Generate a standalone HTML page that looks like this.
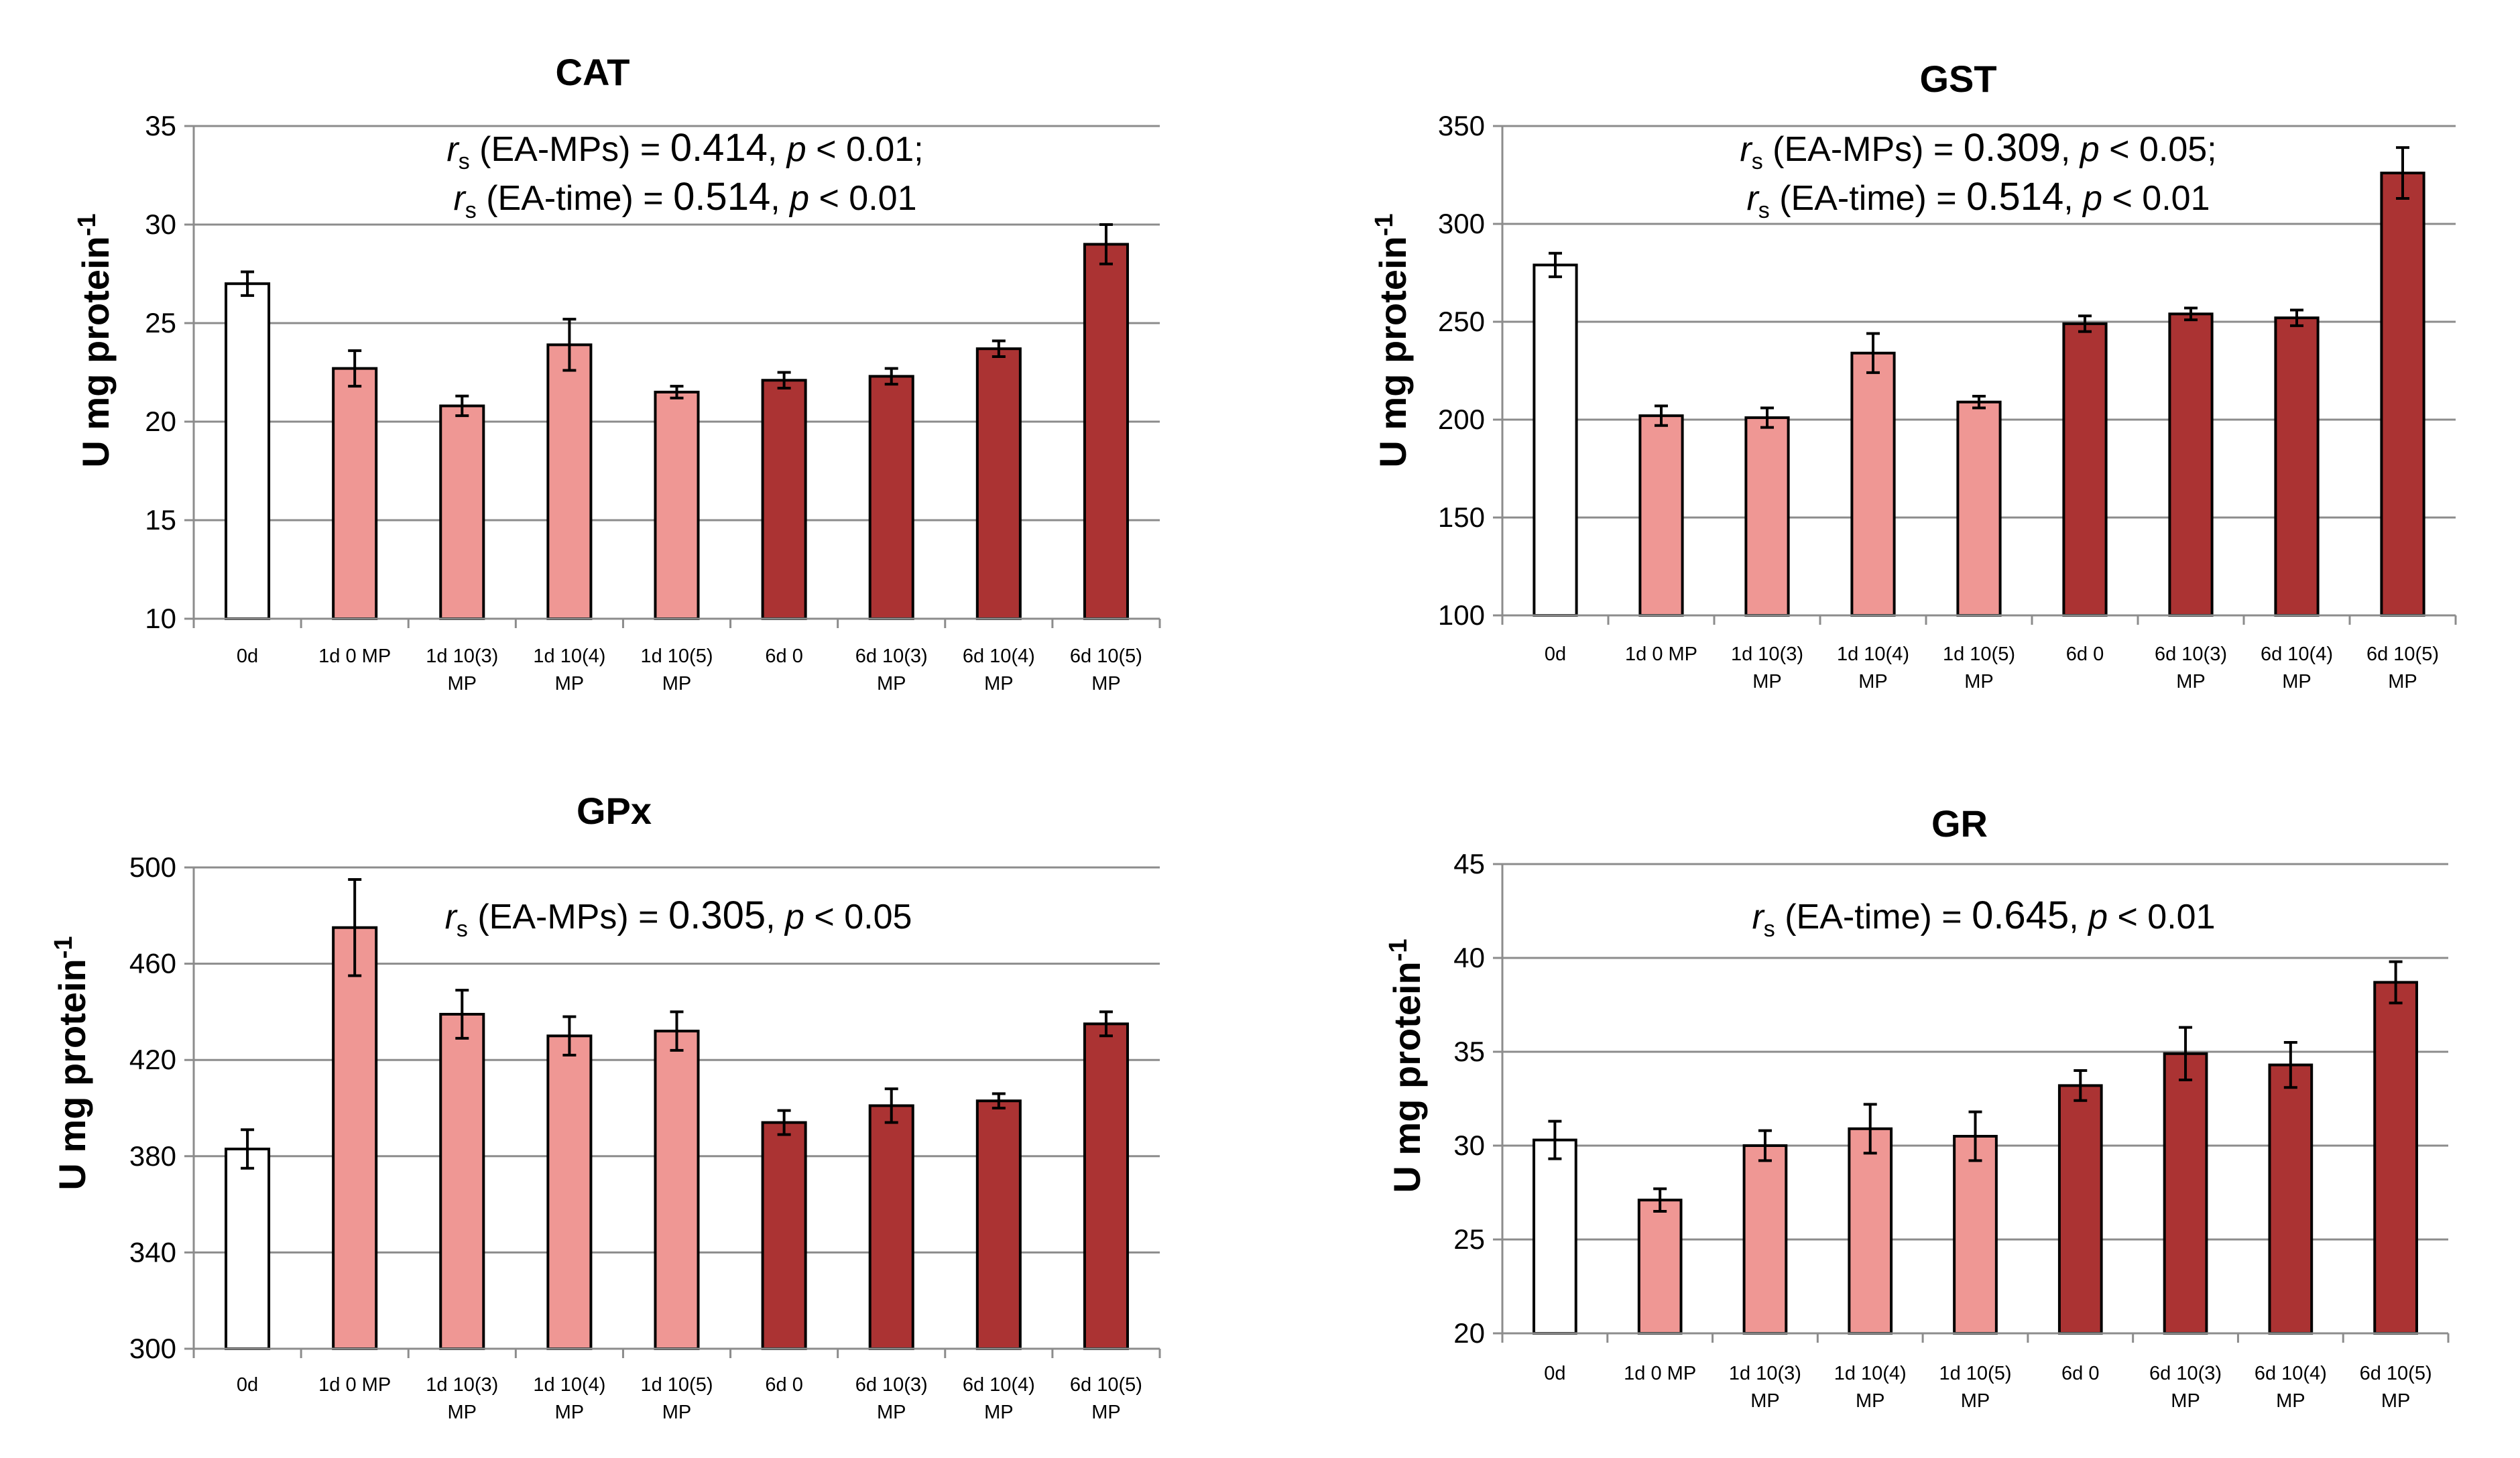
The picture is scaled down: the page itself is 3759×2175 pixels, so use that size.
<!DOCTYPE html>
<html><head><meta charset="utf-8">
<style>
html,body{margin:0;padding:0;background:#fff;}
svg{display:block;}
text{font-family:"Liberation Sans Narrow","Liberation Sans",sans-serif;}
</style></head>
<body>
<svg id="fig" width="3759" height="2175" viewBox="0 0 3759 2175" xmlns="http://www.w3.org/2000/svg"></svg>
<script>
const categories = ["0d","1d 0 MP","1d 10(3)\nMP","1d 10(4)\nMP","1d 10(5)\nMP","6d 0","6d 10(3)\nMP","6d 10(4)\nMP","6d 10(5)\nMP"];
const catValues = [27.0,22.7,20.8,23.9,21.5,22.1,22.3,23.7,29.0];
const catErrors = [0.6,0.9,0.5,1.3,0.3,0.4,0.4,0.4,1.0];
const catTicks = [10,15,20,25,30,35];
const gstValues = [279,202,201,234,209,249,254,252,326];
const gstErrors = [6,5,5,10,3,4,3,4,13];
const gstTicks = [100,150,200,250,300,350];
const gpxValues = [383,475,439,430,432,394,401,403,435];
const gpxErrors = [8,20,10,8,8,5,7,3,5];
const gpxTicks = [300,340,380,420,460,500];
const grValues = [30.3,27.1,30.0,30.9,30.5,33.2,34.9,34.3,38.7];
const grErrors = [1.0,0.6,0.8,1.3,1.3,0.8,1.4,1.2,1.1];
const grTicks = [20,25,30,35,40,45];
const barColors = ["#ffffff","#ef9794","#ef9794","#ef9794","#ef9794","#ab3333","#ab3333","#ab3333","#ab3333"];

const NS="http://www.w3.org/2000/svg";
const svg=document.getElementById('fig');
function mk(tag,attrs,parent){const e=document.createElementNS(NS,tag);for(const k in attrs)e.setAttribute(k,attrs[k]);(parent||svg).appendChild(e);return e;}

function chart(cfg){
  const g=mk('g',{});
  
  
  const {x0,x1,y0,y1,ticks,values,errors}=cfg;
  const vmin=ticks[0],vmax=ticks[ticks.length-1];
  const yS=v=>y1-(v-vmin)/(vmax-vmin)*(y1-y0);
  const band=(x1-x0)/categories.length;
  const xC=i=>x0+band*(i+0.5);
  ticks.forEach(t=>{
    const l=mk('line',{x1:x0-14,x2:x1,y1:yS(t),y2:yS(t),stroke:'#8c8c8c','stroke-width':3},g);
    
    
    const tx=mk('text',{x:x0-26,y:yS(t)+14,'text-anchor':'end','font-size':42,fill:'#000'},g);
    tx.textContent=t;
    
    
  });
  const ax=mk('line',{x1:x0,x2:x0,y1:y0,y2:y1,stroke:'#8c8c8c','stroke-width':3},g);
  
  
  for(let i=0;i<=categories.length;i++){
    const tk=mk('line',{x1:x0+band*i,x2:x0+band*i,y1:y1,y2:y1+14,stroke:'#8c8c8c','stroke-width':3},g);
    
    
  }
  const bw=band*0.4;
  values.forEach((v,i)=>{
    const r=mk('rect',{x:xC(i)-bw/2,y:yS(v),width:bw,height:y1-yS(v),fill:barColors[i],stroke:'#000','stroke-width':4},g);
    
    
    const e=errors[i],hi=yS(v+e),lo=yS(v-e);
    const eb=mk('path',{d:`M${xC(i)},${hi}V${lo}M${xC(i)-10},${hi}H${xC(i)+10}M${xC(i)-10},${lo}H${xC(i)+10}`,stroke:'#000','stroke-width':4,fill:'none'},g);
    
    
  });
  const xl=mk('line',{x1:x0,x2:x1,y1:y1,y2:y1,stroke:'#8c8c8c','stroke-width':3},g);
  
  
  categories.forEach((c,i)=>{
    const lines=c.split('\n');
    lines.forEach((s,j)=>{
      const t=mk('text',{x:xC(i),y:cfg.labY+j*41,'text-anchor':'middle','font-size':29,fill:'#000'},g);
      t.textContent=s;
      
      
    });
  });
  const ti=mk('text',{x:cfg.titleX,y:cfg.titleY,'text-anchor':'middle','font-size':56,'font-weight':'bold',fill:'#000'},g);
  ti.textContent=cfg.title;
  
  
  const yl=mk('text',{transform:`translate(${cfg.ylX},${cfg.ylY}) rotate(-90)`,'text-anchor':'middle','font-size':56,'font-weight':'bold',fill:'#000'},g);
  yl.setAttribute('font-family','"Liberation Sans",sans-serif');
  yl.innerHTML='U mg protein<tspan dy="-20" font-size="38">-1</tspan>';
  
  
  cfg.notes.forEach((n,k)=>{
    const t=mk('text',{x:cfg.noteX,y:cfg.noteY+k*73,'text-anchor':'middle','font-size':52,fill:'#000'},g);
    t.innerHTML=`<tspan font-style="italic">r</tspan><tspan dy="12" font-size="34">s</tspan><tspan dy="-12"> (${n[0]}) = </tspan><tspan font-size="58">${n[1]}</tspan>, <tspan font-style="italic">p</tspan> &lt; ${n[2]}`;
    
    
  });
}
chart({id:'cat',title:'CAT',x0:289,x1:1730,y0:188,y1:923,ticks:catTicks,values:catValues,errors:catErrors,labY:988,titleX:884,titleY:127,ylX:162,ylY:508,noteX:1022,noteY:240,notes:[['EA-MPs','0.414','0.01;'],['EA-time','0.514','0.01']]});
chart({id:'gst',title:'GST',x0:2241,x1:3663,y0:188,y1:918,ticks:gstTicks,values:gstValues,errors:gstErrors,labY:985,titleX:2921,titleY:137,ylX:2097,ylY:508,noteX:2951,noteY:240,notes:[['EA-MPs','0.309','0.05;'],['EA-time','0.514','0.01']]});
chart({id:'gpx',title:'GPx',x0:289,x1:1730,y0:1294,y1:2012,ticks:gpxTicks,values:gpxValues,errors:gpxErrors,labY:2075,titleX:916,titleY:1229,ylX:127,ylY:1586,noteX:1012,noteY:1385,notes:[['EA-MPs','0.305','0.05']]});
chart({id:'gr',title:'GR',x0:2241,x1:3652,y0:1289,y1:1989,ticks:grTicks,values:grValues,errors:grErrors,labY:2058,titleX:2923,titleY:1248,ylX:2118,ylY:1590,noteX:2959,noteY:1385,notes:[['EA-time','0.645','0.01']]});
</script>
</body></html>
